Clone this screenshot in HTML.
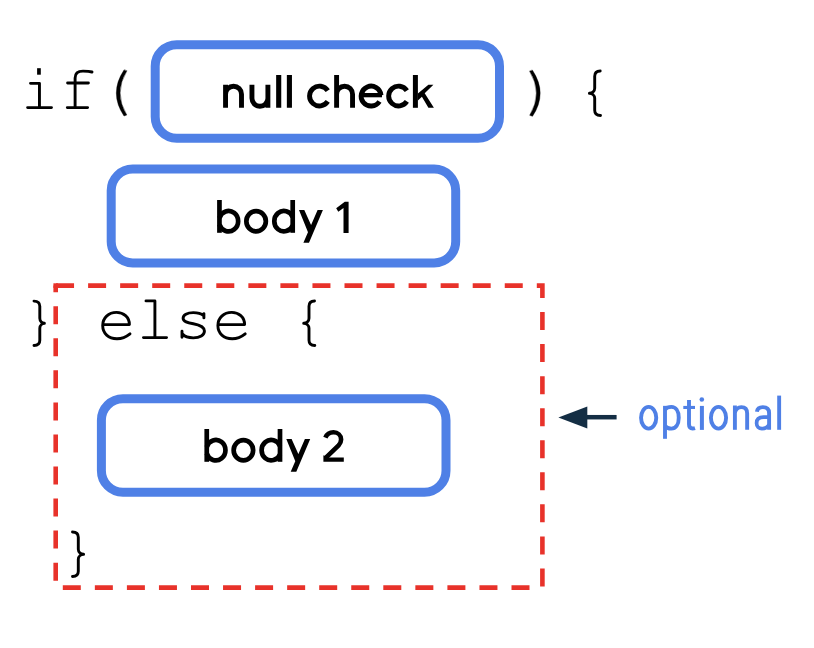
<!DOCTYPE html>
<html lang="en"><head><meta charset="utf-8">
<title>if / else diagram</title>
<style>
html,body{margin:0;padding:0;background:#fff;width:814px;height:648px;overflow:hidden}
svg{position:absolute;left:0;top:0}
</style></head><body>
<svg width="814" height="648" viewBox="0 0 814 648" role="img" aria-label="if( null check ) { body 1 } else { body 2 } — optional">
  <title>if( null check ) { body 1 } else { body 2 } — the else block is optional</title>
  <!-- blue boxes -->
  <g fill="none" stroke="#4f80e6" stroke-width="9">
    <rect x="155.2" y="44.7" width="344.3" height="93.5" rx="21.5"/>
    <rect x="111.2" y="169.1" width="344.5" height="93.8" rx="21.5"/>
    <rect x="101.4" y="398.7" width="344.6" height="93.5" rx="21.5"/>
  </g>
  <!-- red dashed -->
  <rect x="55.7" y="285.6" width="486.7" height="302" fill="none" stroke="#e8322a" stroke-width="4.6" stroke-dasharray="18 14.05" stroke-dashoffset="-0.35"/>
  <rect x="53.4" y="283.3" width="4.6" height="4.6" fill="#e8322a"/>
  <!-- arrow -->
  <path d="M616.6 417.2 H586" stroke="#142e44" stroke-width="4.5"/>
  <path d="M558.4 417.5 L587.3 406.5 L587.3 428.5 Z" fill="#142e44"/>

  <!-- monospace glyphs (Courier-like) -->
  <g fill="none" stroke="#000" stroke-width="2.9" stroke-linecap="round" stroke-linejoin="round">
    <!-- i -->
    <path d="M30.5 83.35 H39.45 V107.6 M27.6 107.6 H51.5"/>
    <!-- f -->
    <path d="M75.1 107.6 V78 C75.1 73 78.5 71.1 83 71.1 C87 71.1 90 71.4 92 72 M67.6 83 H88.4 M67.3 107.6 H87.6"/>
    <!-- ( -->
    <path id="lp" d="M124 70 Q108.6 93 124 116 L126.8 115 Q113.4 93 126.8 71 Z" fill="#000" stroke-width="0.4"/>
    <!-- ) -->
    <path d="M124 70 Q108.6 93 124 116 L126.8 115 Q113.4 93 126.8 71 Z" transform="translate(656.5 0.3) scale(-1 1)" fill="#000" stroke-width="0.4"/>
    <!-- { if line -->
    <path transform="translate(594.7 93.3) scale(-1 1)" d="M-5.5 -22.3 C-1.8 -22.3 0 -20.5 0 -17 V-5 C0 -2 2.5 -0.2 5.3 0 C2.5 0.2 0 2 0 5 V17 C0 20.5 -1.8 22.2 -5.8 22.2"/>
    <!-- } else line -->
    <path transform="translate(39.8 323.3)" d="M-5.8 -22.2 C-2 -22.2 0 -20.5 0 -17 V-5 C0 -2 2.5 -0.2 4.6 0 C2.5 0.2 0 2 0 5 V17 C0 20.5 -2 22.2 -5.8 22.2"/>
    <!-- e -->
    <path id="ge" d="M103 324.6 H129.4 C129.4 317 123.5 312.4 116.5 312.4 C108.5 312.4 102.7 318 102.7 325.5 C102.7 333.5 108.5 338.7 117 338.7 C121.5 338.7 126 337 130 333.8"/>
    <!-- l -->
    <path d="M146 300.9 H154.9 V337.6 M143.45 337.6 H166.55"/>
    <!-- s -->
    <path d="M203.6 315.5 C201 313.4 197.5 312.6 193.3 312.6 C187 312.6 183.1 315.2 183.1 318.3 C183.1 321.7 187.5 322.7 193.3 323.7 C200 324.9 204.45 327.2 204.45 331.1 C204.45 335.2 199.8 337.85 193.3 337.85 C188 337.85 184.5 336.4 182.5 334 M203.9 313.6 V317.9 M182 331.3 V337.2"/>
    <!-- e2 -->
    <path transform="translate(115.2 0)" d="M103 324.6 H129.4 C129.4 317 123.5 312.4 116.5 312.4 C108.5 312.4 102.7 318 102.7 325.5 C102.7 333.5 108.5 338.7 117 338.7 C121.5 338.7 126 337 130 333.8"/>
    <!-- { else line -->
    <path transform="translate(309 323.3) scale(-1 1)" d="M-5.5 -22.3 C-1.8 -22.3 0 -20.5 0 -17 V-5 C0 -2 2.5 -0.2 5.3 0 C2.5 0.2 0 2 0 5 V17 C0 20.5 -1.8 22.2 -5.8 22.2"/>
    <!-- } final -->
    <path transform="translate(78.3 554.3)" d="M-5.8 -22.3 C-2 -22.3 0 -20.5 0 -17 V-5 C0 -2 2.5 -0.2 5.3 0 C2.5 0.2 0 2 0 5 V17 C0 20.5 -2 22.2 -5.8 22.2"/>
  </g>
  <rect x="37.1" y="68.2" width="3.7" height="6.5" fill="#000"/>

  <!-- sans labels (geometric glyphs) -->
  <g fill="none" stroke="#000" stroke-linecap="butt">
    <!-- null check -->
    <g stroke-width="4.9">
      <path d="M225.55 107.8 V84.65 M225.55 94.2 A7.97 7.97 0 0 1 241.5 94.2 V107.8"/>
      <path d="M251.95 84.8 V98.3 A7.97 7.97 0 0 0 267.9 98.3 M267.9 84.8 V107.8"/>
      <path d="M278.7 74.9 V107.8 M289.4 74.9 V107.8" stroke-width="5.1"/>
      <path d="M327.75 90.66 A9.9 9.9 0 1 0 327.75 101.44"/>
      <path transform="translate(79.1 0)" d="M327.75 90.66 A9.9 9.9 0 1 0 327.75 101.44"/>
      <path d="M336.6 75 V107.8 M336.6 94.15 A7.97 7.97 0 0 1 352.55 94.15 V107.8"/>
      <path d="M381.0 95.15 A9.95 9.95 0 1 0 379.44 101.52"/>
      <path d="M361.5 95.15 H382" stroke-width="4.3"/>
      <path d="M415.4 75 V107.8" stroke-width="5"/>
    </g>
    <path d="M417.9 93.6 L428.4 84.65 L433.4 84.65 L424.7 93.3 L433.9 107.8 L428.4 107.8 L421.9 96.7 L417.9 100.4 Z" fill="#000" stroke="none"/>
    <!-- body 1 -->
    <g id="bodyw" stroke-width="4.7">
      <path d="M219.45 200 V232.8"/>
      <path d="M219.45 217.96 A9.6 10.2 0 1 1 219.45 224.44"/>
      <ellipse cx="256.1" cy="221.2" rx="9.75" ry="10.1"/>
      <path d="M292.7 200 V232.8"/>
      <path d="M292.7 217.12 A9.6 10.2 0 1 0 292.7 225.28"/>
      <path d="M317.6 210 L322.9 210 L309 242.75 L303.4 242.75 Z M299 210 L304.3 210 L311.5 226 L308.3 233 Z" fill="#000" stroke="none"/>
    </g>
    <path d="M344.8 201.7 L348.6 201.7 L348.6 232.9 L343.5 232.9 L343.5 208 L338.3 211.7 L336.2 208.3 Z" fill="#000" stroke="none"/>
    <!-- body 2 -->
    <use href="#bodyw" transform="translate(-12.7 229)"/>
    <path d="M325.4 437.6 C326.8 434.2 329.8 432.3 333.5 432.3 C337.8 432.3 341.1 435.3 341.1 439.5 C341.1 441.8 340.2 443.6 338.6 445.3 L325.4 458.2" stroke-width="4.6"/>
    <path d="M323.4 457.5 H343.8 V461.8 H323.4 Z M323.4 457.5 L323.4 455.3 L325.6 456.2 L327 457.5 Z" fill="#000" stroke="none"/>
  </g>
  <!-- optional (Roboto-like) -->
  <g fill="none" stroke="#4f80e6" stroke-width="3.9" stroke-linecap="butt">
    <ellipse id="oo" cx="648.65" cy="417.75" rx="7.6" ry="10.85"/>
    <ellipse cx="718.5" cy="417.75" rx="7.6" ry="10.85"/>
    <path d="M665 405.85 V438.8"/>
    <path d="M665 409.5 C666.5 407.5 668.8 406.9 671.4 406.9 C675.5 406.9 678.75 410.5 678.75 417.75 C678.75 425 675.5 428.6 671.4 428.6 C668.8 428.6 666.5 428 665 426"/>
    <path d="M689 400.1 V424.3 C689 427.4 690.4 428.5 692.6 428.5 C693.6 428.5 694.4 428.4 695 428.2" />
    <path d="M683.3 407.45 H695" stroke-width="3.1"/>
    <path d="M701.9 405.9 V429.9" stroke-width="4"/>
    <circle cx="701.8" cy="399.45" r="2.3" fill="#4f80e6" stroke="none"/>
    <path d="M734.9 405.5 V429.8"/>
    <path d="M734.9 412.5 C736 408.8 738.5 407.15 741.3 407.15 C745.3 407.15 747.15 409.5 747.15 413.5 V429.8"/>
    <path d="M756.9 411.8 C757.3 408.8 759.8 407.15 762.8 407.15 C766.8 407.15 769.1 409.2 769.1 413 V429.8"/>
    <path d="M769.1 417.2 H763.5 C759 417.2 756.6 419.6 756.6 423.2 C756.6 426.6 758.8 428.6 762 428.6 C765.5 428.6 768 426.6 769.1 424.6" stroke-width="3.7"/>
    <path d="M779.15 395.6 V429.8"/>
  </g>
</svg>
</body></html>
